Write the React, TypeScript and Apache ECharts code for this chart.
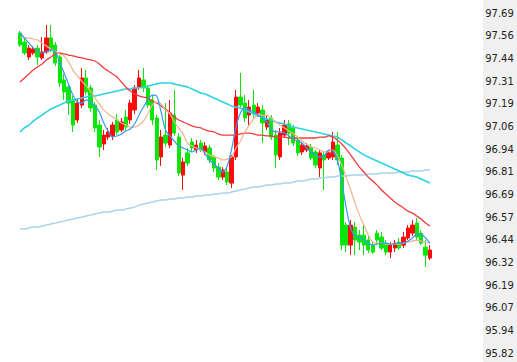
import React, { useEffect, useRef } from "react";
import * as echarts from "echarts";

// [open, close, low, high]
const candles: number[][] = [
  [97.577, 97.511, 97.500, 97.588],
  [97.527, 97.467, 97.456, 97.550],
  [97.445, 97.494, 97.429, 97.511],
  [97.467, 97.489, 97.456, 97.505],
  [97.494, 97.445, 97.401, 97.511],
  [97.440, 97.473, 97.429, 97.555],
  [97.473, 97.550, 97.462, 97.621],
  [97.550, 97.484, 97.473, 97.621],
  [97.511, 97.412, 97.396, 97.527],
  [97.445, 97.302, 97.280, 97.456],
  [97.319, 97.253, 97.209, 97.352],
  [97.280, 97.192, 97.126, 97.291],
  [97.209, 97.071, 97.033, 97.231],
  [97.099, 97.192, 97.082, 97.220],
  [97.181, 97.330, 97.165, 97.385],
  [97.330, 97.253, 97.236, 97.374],
  [97.275, 97.165, 97.143, 97.291],
  [97.181, 97.055, 97.033, 97.198],
  [97.071, 96.950, 96.896, 97.099],
  [96.967, 97.016, 96.934, 97.044],
  [97.005, 97.033, 96.989, 97.055],
  [97.011, 97.071, 96.989, 97.088],
  [97.099, 97.033, 97.016, 97.132],
  [97.044, 97.088, 97.033, 97.110],
  [97.115, 97.060, 97.038, 97.154],
  [97.099, 97.192, 97.077, 97.209],
  [97.154, 97.275, 97.132, 97.291],
  [97.280, 97.330, 97.264, 97.374],
  [97.319, 97.275, 97.253, 97.385],
  [97.275, 97.181, 97.165, 97.291],
  [97.209, 97.099, 97.071, 97.236],
  [97.110, 96.879, 96.824, 97.126],
  [96.896, 97.005, 96.846, 97.044],
  [97.016, 96.972, 96.950, 97.192],
  [96.961, 97.137, 96.945, 97.209],
  [97.126, 97.027, 97.011, 97.264],
  [97.005, 96.807, 96.791, 97.027],
  [96.796, 96.868, 96.714, 96.890],
  [96.918, 96.862, 96.846, 96.945],
  [96.978, 96.945, 96.923, 97.000],
  [96.934, 96.961, 96.918, 96.989],
  [96.972, 96.934, 96.923, 96.989],
  [96.923, 96.956, 96.907, 96.978],
  [96.945, 96.879, 96.862, 96.961],
  [96.896, 96.835, 96.813, 96.907],
  [96.840, 96.785, 96.769, 96.862],
  [96.785, 96.824, 96.769, 96.840],
  [96.813, 96.758, 96.741, 96.835],
  [96.752, 96.896, 96.725, 96.907],
  [96.896, 97.225, 96.879, 97.264],
  [97.225, 97.181, 97.165, 97.357],
  [97.192, 97.110, 97.088, 97.236],
  [97.126, 97.170, 97.071, 97.209],
  [97.181, 97.137, 97.110, 97.264],
  [97.137, 97.170, 97.115, 97.192],
  [97.154, 97.082, 96.972, 97.181],
  [97.060, 97.099, 97.044, 97.126],
  [97.110, 97.005, 96.989, 97.126],
  [97.016, 96.907, 96.835, 97.044],
  [96.896, 97.027, 96.879, 97.055],
  [97.016, 97.071, 97.000, 97.099],
  [97.077, 97.027, 96.961, 97.099],
  [97.055, 96.972, 96.956, 97.071],
  [96.989, 96.918, 96.901, 97.005],
  [96.923, 96.961, 96.907, 96.978],
  [96.934, 96.956, 96.923, 96.972],
  [96.950, 96.890, 96.879, 96.967],
  [96.923, 96.851, 96.835, 96.934],
  [96.835, 96.918, 96.785, 96.934],
  [96.907, 96.879, 96.714, 96.923],
  [96.890, 96.918, 96.879, 96.934],
  [96.896, 96.978, 96.879, 97.033],
  [96.961, 96.879, 96.851, 97.033],
  [96.890, 96.411, 96.384, 96.907],
  [96.521, 96.411, 96.373, 96.538],
  [96.411, 96.521, 96.356, 96.549],
  [96.510, 96.439, 96.356, 96.538],
  [96.466, 96.428, 96.384, 96.494],
  [96.466, 96.411, 96.356, 96.521],
  [96.439, 96.384, 96.367, 96.466],
  [96.411, 96.373, 96.362, 96.428],
  [96.477, 96.439, 96.411, 96.494],
  [96.455, 96.395, 96.384, 96.483],
  [96.422, 96.373, 96.356, 96.439],
  [96.373, 96.411, 96.340, 96.428],
  [96.395, 96.422, 96.373, 96.439],
  [96.428, 96.395, 96.384, 96.450],
  [96.411, 96.455, 96.395, 96.483],
  [96.450, 96.505, 96.439, 96.521],
  [96.477, 96.521, 96.461, 96.549],
  [96.532, 96.455, 96.439, 96.560],
  [96.477, 96.422, 96.411, 96.494],
  [96.400, 96.356, 96.290, 96.439],
  [96.340, 96.384, 96.329, 96.411],
];

const maBlue = [
  97.577, 97.550, 97.522, 97.495, 97.478, 97.467, 97.473, 97.484, 97.473, 97.418,
  97.357, 97.297, 97.236, 97.198, 97.192, 97.209, 97.198, 97.176, 97.143, 97.082,
  97.038, 97.005, 97.011, 97.022, 97.038, 97.049, 97.077, 97.126, 97.170, 97.209,
  97.236, 97.231, 97.143, 97.044, 97.011, 96.983, 96.956, 96.945, 96.934, 96.923,
  96.934, 96.945, 96.912, 96.879, 96.857, 96.835, 96.813, 96.846, 96.939, 97.060,
  97.137, 97.165, 97.154, 97.143, 97.126, 97.110, 97.088, 97.049, 97.033, 97.033,
  97.027, 97.011, 96.994, 96.983, 96.972, 96.945, 96.923, 96.907, 96.896, 96.901,
  96.934, 96.928, 96.879, 96.758, 96.615, 96.505, 96.461, 96.455, 96.439, 96.422,
  96.411, 96.417, 96.422, 96.422, 96.417, 96.417, 96.422, 96.422, 96.433, 96.450,
  96.472, 96.472, 96.450, 96.422,
];

const maOrange = [
  97.555, 97.550, 97.550, 97.544, 97.539, 97.522, 97.505, 97.489, 97.478, 97.462,
  97.451, 97.418, 97.374, 97.341, 97.313, 97.286, 97.258, 97.220, 97.187, 97.154,
  97.132, 97.115, 97.099, 97.082, 97.071, 97.060, 97.060, 97.071, 97.093, 97.132,
  97.181, 97.198, 97.187, 97.154, 97.132, 97.088, 97.055, 97.022, 96.972, 96.956,
  96.945, 96.934, 96.923, 96.907, 96.896, 96.890, 96.879, 96.884, 96.896, 96.945,
  96.983, 97.033, 97.071, 97.104, 97.126, 97.126, 97.126, 97.110, 97.088, 97.071,
  97.055, 97.038, 97.022, 97.005, 96.983, 96.967, 96.950, 96.945, 96.934, 96.923,
  96.928, 96.934, 96.901, 96.851, 96.785, 96.714, 96.642, 96.576, 96.521, 96.466,
  96.428, 96.422, 96.422, 96.417, 96.417, 96.417, 96.417, 96.422, 96.428, 96.433,
  96.439, 96.433, 96.428, 96.422,
];

const maRed = [
  97.308, 97.330, 97.352, 97.374, 97.391, 97.407, 97.429, 97.445, 97.462, 97.467,
  97.462, 97.456, 97.451, 97.445, 97.440, 97.434, 97.429, 97.423, 97.407, 97.385,
  97.368, 97.352, 97.335, 97.308, 97.280, 97.258, 97.242, 97.231, 97.225, 97.220,
  97.203, 97.192, 97.176, 97.159, 97.137, 97.115, 97.099, 97.088, 97.077, 97.066,
  97.060, 97.055, 97.044, 97.038, 97.033, 97.022, 97.016, 97.016, 97.016, 97.016,
  97.022, 97.027, 97.027, 97.022, 97.016, 97.016, 97.011, 97.011, 97.005, 97.005,
  97.005, 97.000, 97.000, 97.000, 97.000, 97.000, 97.000, 97.000, 97.005, 97.005,
  97.011, 97.005, 96.989, 96.967, 96.939, 96.907, 96.873, 96.840, 96.813, 96.785,
  96.763, 96.741, 96.714, 96.692, 96.670, 96.648, 96.631, 96.615, 96.598, 96.587,
  96.571, 96.554, 96.532, 96.516,
];

const maCyan = [
  97.033, 97.055, 97.071, 97.093, 97.110, 97.126, 97.143, 97.159, 97.170, 97.181,
  97.192, 97.203, 97.209, 97.214, 97.220, 97.225, 97.231, 97.231, 97.236, 97.242,
  97.247, 97.253, 97.258, 97.264, 97.269, 97.269, 97.275, 97.275, 97.280, 97.286,
  97.291, 97.297, 97.302, 97.302, 97.302, 97.297, 97.291, 97.286, 97.280, 97.269,
  97.258, 97.247, 97.242, 97.231, 97.220, 97.209, 97.198, 97.187, 97.176, 97.170,
  97.165, 97.154, 97.143, 97.132, 97.121, 97.115, 97.104, 97.099, 97.088, 97.082,
  97.077, 97.066, 97.060, 97.055, 97.049, 97.044, 97.038, 97.033, 97.027, 97.022,
  97.016, 97.011, 97.005, 96.989, 96.972, 96.956, 96.939, 96.923, 96.907, 96.896,
  96.884, 96.873, 96.862, 96.851, 96.840, 96.829, 96.818, 96.807, 96.796, 96.791,
  96.785, 96.774, 96.763, 96.752,
];

const maLight = [
  96.499, 96.499, 96.505, 96.510, 96.510, 96.516, 96.521, 96.527, 96.532, 96.538,
  96.543, 96.549, 96.554, 96.560, 96.565, 96.571, 96.576, 96.582, 96.587, 96.593,
  96.593, 96.598, 96.604, 96.604, 96.609, 96.615, 96.620, 96.631, 96.637, 96.642,
  96.648, 96.653, 96.659, 96.659, 96.664, 96.664, 96.670, 96.670, 96.675, 96.675,
  96.681, 96.681, 96.686, 96.686, 96.692, 96.692, 96.697, 96.697, 96.703, 96.708,
  96.714, 96.719, 96.725, 96.730, 96.730, 96.736, 96.741, 96.741, 96.747, 96.747,
  96.752, 96.752, 96.758, 96.763, 96.763, 96.769, 96.774, 96.774, 96.780, 96.780,
  96.785, 96.785, 96.791, 96.791, 96.791, 96.796, 96.796, 96.796, 96.796, 96.802,
  96.802, 96.802, 96.807, 96.807, 96.807, 96.807, 96.813, 96.813, 96.813, 96.818,
  96.818, 96.818, 96.824, 96.824,
];

const yMin = 95.818;
const yMax = 97.687;
const yInterval = 0.1246;

const categories = candles.map((_, i) => String(i));

export default function App() {
  const ref = useRef<HTMLDivElement>(null);
  useEffect(() => {
    if (!ref.current) return;
    const chart = echarts.init(ref.current, undefined, { renderer: "svg" });
    const line = (data: number[], color: string, width: number) => ({
      type: "line",
      data,
      smooth: 0.3,
      symbol: "none",
      lineStyle: { color, width },
      z: 3,
    });
    chart.setOption({
      animation: false,
      backgroundColor: "#ffffff",
      graphic: [
        {
          type: "rect",
          left: 483,
          top: 0,
          shape: { width: 34, height: 362 },
          style: { fill: "#f0f0f0" },
          z: -10,
        },
      ],
      grid: { left: 17.8, right: 84.8, top: 13, bottom: 9 },
      xAxis: {
        type: "category",
        data: categories,
        boundaryGap: true,
        show: false,
      },
      yAxis: {
        type: "value",
        position: "right",
        min: yMin,
        max: yMax,
        interval: yInterval,
        scale: true,
        axisLine: { show: false },
        axisTick: { show: false },
        splitLine: { show: false },
        axisLabel: {
          margin: 53,
          color: "#222222",
          fontFamily: "DejaVu Sans",
          fontSize: 10,
          formatter: (v: number) => v.toFixed(2),
        },
      },
      series: [
        line(maLight, "#a9d3ec", 1.5),
        line(maCyan, "#2ed3e3", 1.6),
        line(maRed, "#f03c3c", 1.3),
        line(maOrange, "#f2b48a", 1.2),
        line(maBlue, "#3b98f5", 1.2),
        {
          type: "candlestick",
          data: candles,
          barWidth: 3.8,
          z: 2,
          itemStyle: {
            color: "#ff0a0a",
            color0: "#0ae60a",
            borderColor: "#ff0a0a",
            borderColor0: "#0ae60a",
            borderWidth: 1,
          },
        },
      ],
    });
    return () => chart.dispose();
  }, []);
  return (
    <div
      ref={ref}
      style={{ position: "fixed", left: 0, top: 0, width: 517, height: 362 }}
    />
  );
}
